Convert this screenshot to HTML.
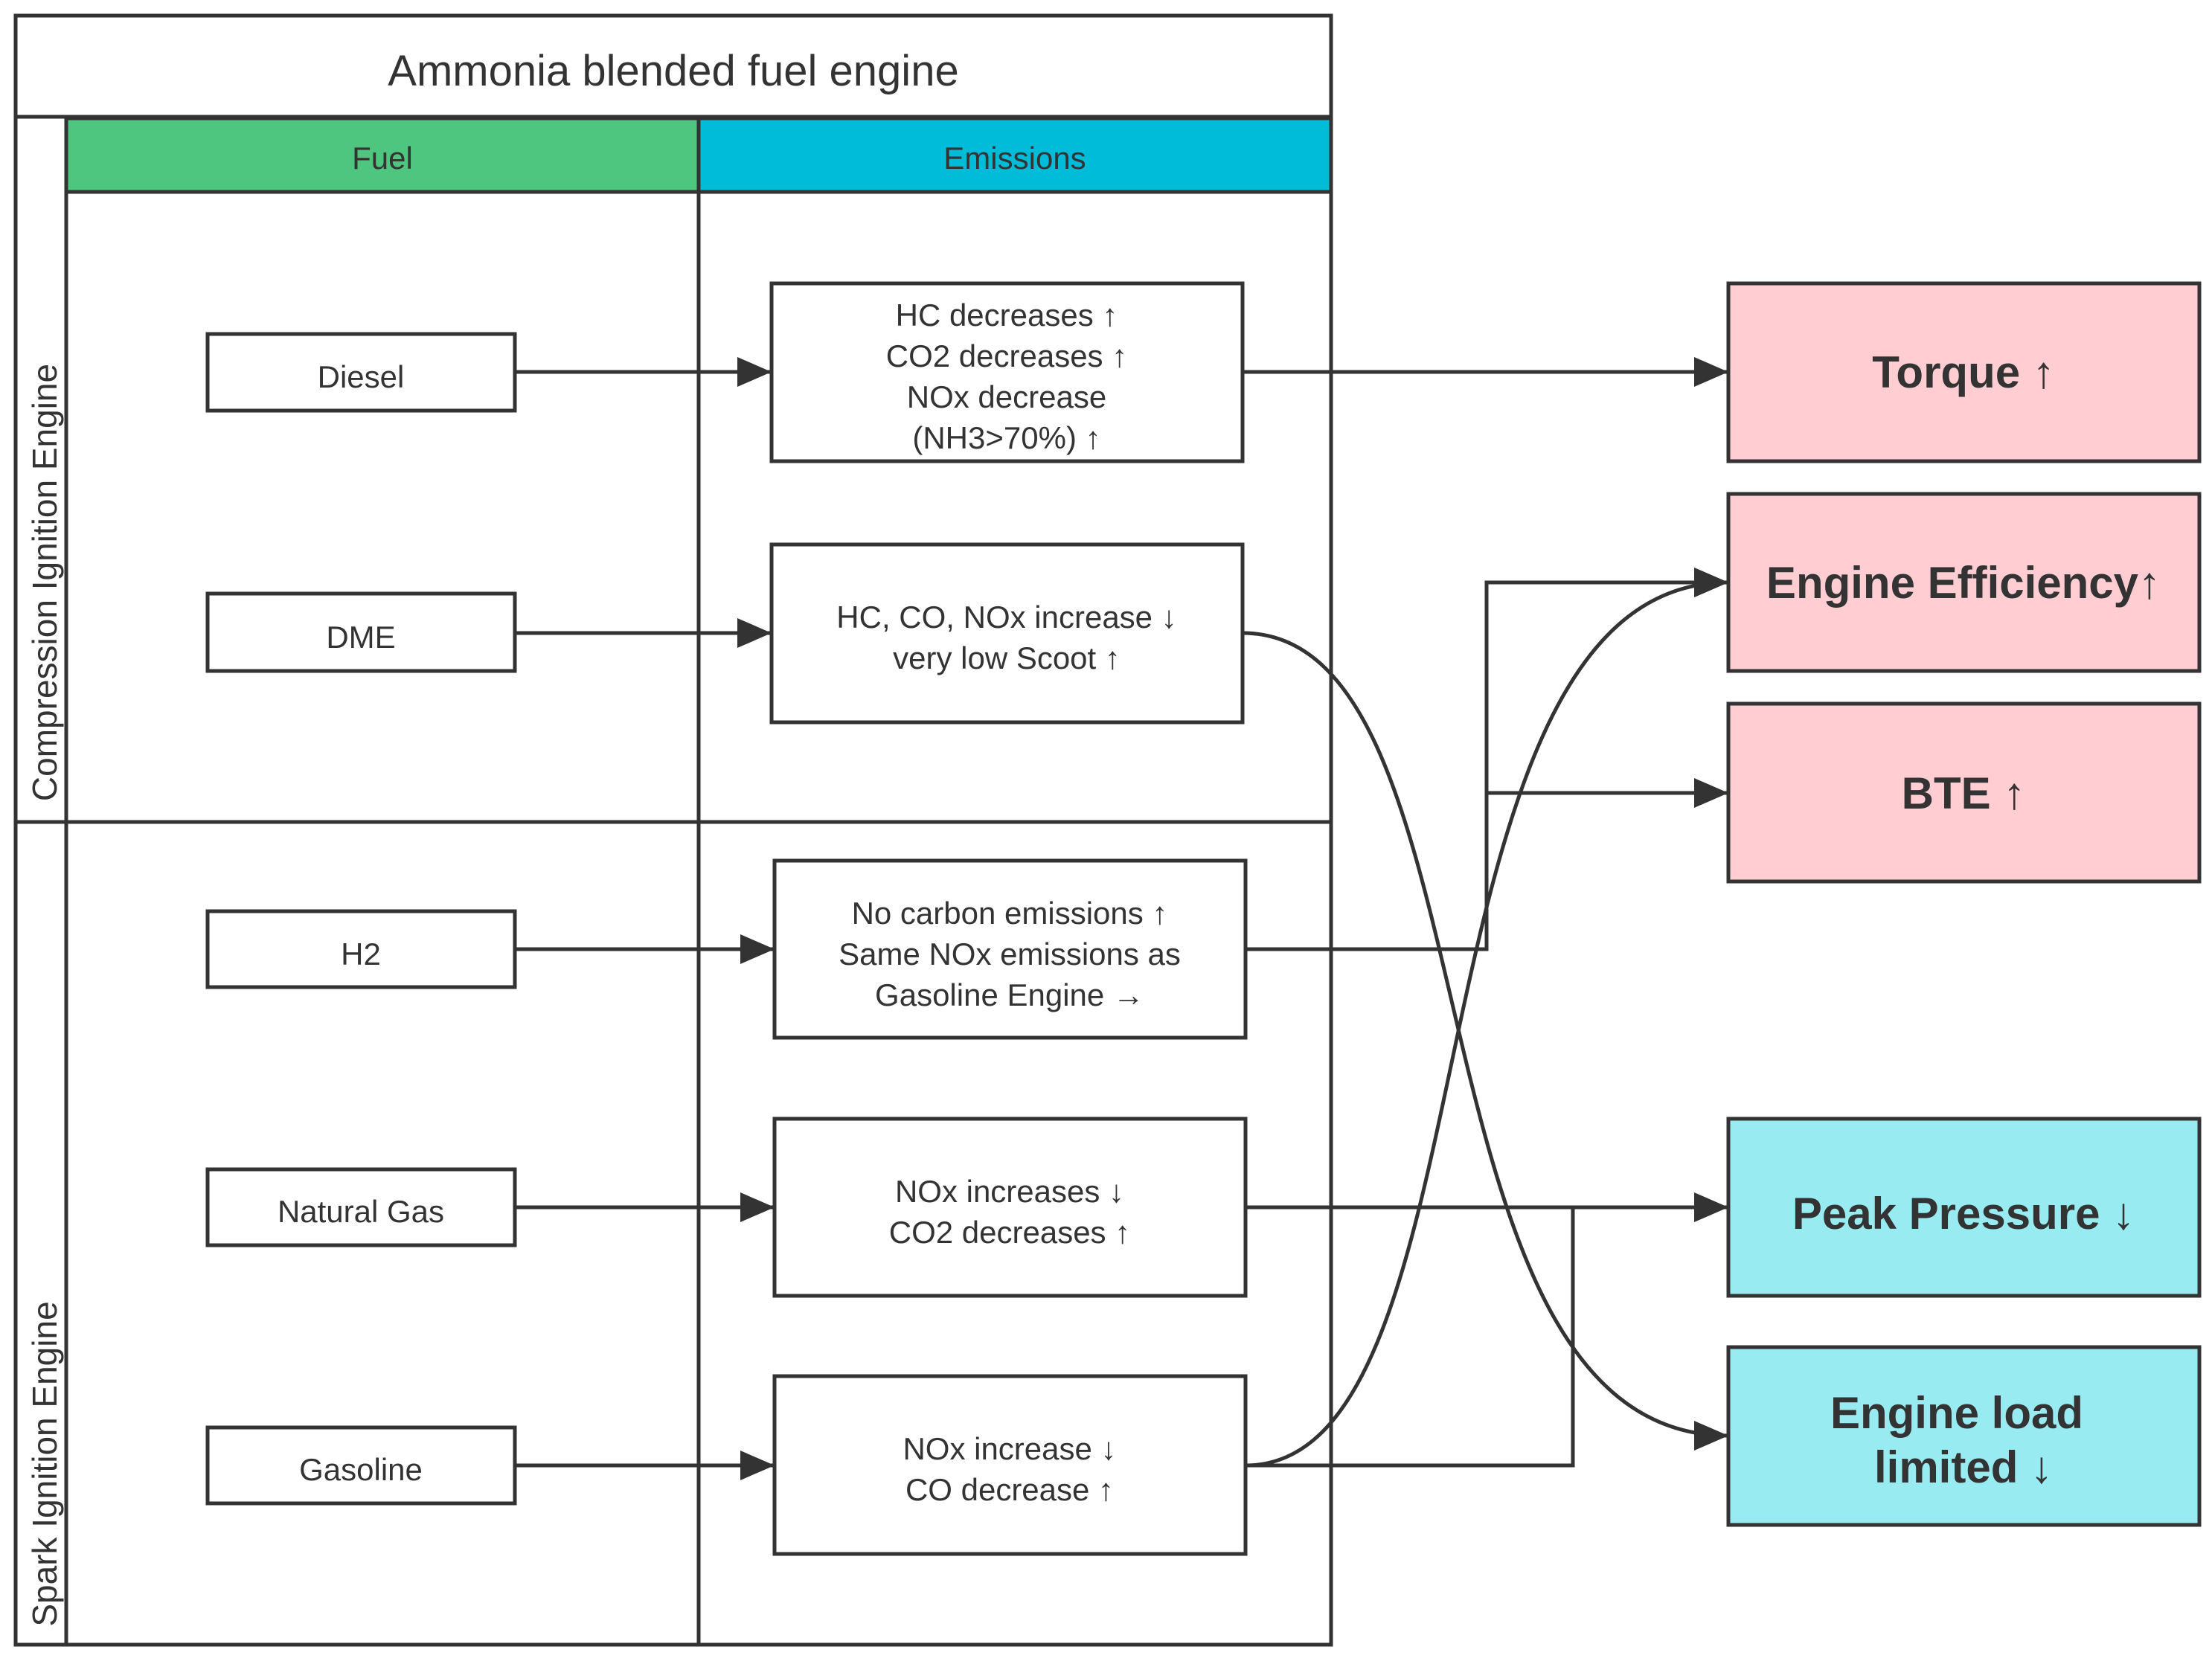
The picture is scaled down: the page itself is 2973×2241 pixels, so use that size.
<!DOCTYPE html>
<html><head><meta charset="utf-8"><style>
body{margin:0;background:#fff}
svg text{font-family:"Liberation Sans","DejaVu Sans",sans-serif;fill:#333}
</style></head><body>
<svg width="2973" height="2236" viewBox="0 0 2973 2236" xmlns="http://www.w3.org/2000/svg">
<defs>
<marker id="b" viewBox="0 0 10 10" refX="10" refY="5" markerWidth="46" markerHeight="40" orient="auto" markerUnits="userSpaceOnUse" preserveAspectRatio="none"><path d="M0,0 L10,5 L0,10z" fill="#333"/></marker></defs>
<g stroke="#333" stroke-width="5" fill="none">
<rect x="21" y="21" width="1768" height="2190" fill="#fff"/>
<line x1="21" y1="157" x2="1789" y2="157"/>
<rect x="89" y="159" width="850" height="99" fill="#4fc67f"/>
<rect x="939" y="159" width="850" height="99" fill="#00bcd8"/>
<line x1="89" y1="157" x2="89" y2="2211"/>
<line x1="939" y1="258" x2="939" y2="2211"/>
<line x1="21" y1="1105" x2="1789" y2="1105"/>
<rect x="279" y="449" width="413" height="103" fill="#fff"/>
<rect x="279" y="798" width="413" height="104" fill="#fff"/>
<rect x="279" y="1225" width="413" height="102" fill="#fff"/>
<rect x="279" y="1572" width="413" height="102" fill="#fff"/>
<rect x="279" y="1919" width="413" height="102" fill="#fff"/>
<rect x="1037" y="381" width="633" height="239" fill="#fff"/>
<rect x="1037" y="732" width="633" height="239" fill="#fff"/>
<rect x="1041" y="1157" width="633" height="238" fill="#fff"/>
<rect x="1041" y="1504" width="633" height="238" fill="#fff"/>
<rect x="1041" y="1850" width="633" height="239" fill="#fff"/>
<rect x="2323" y="381" width="633" height="239" fill="#ffcdd2"/>
<rect x="2323" y="664" width="633" height="238" fill="#ffcdd2"/>
<rect x="2323" y="946" width="633" height="239" fill="#ffcdd2"/>
<rect x="2323" y="1504" width="633" height="238" fill="#98ebf1"/>
<rect x="2323" y="1811" width="633" height="239" fill="#98ebf1"/>
<g marker-end="url(#b)">
<line x1="692" y1="500" x2="1037" y2="500"/>
<line x1="692" y1="851" x2="1037" y2="851"/>
<line x1="692" y1="1276" x2="1041" y2="1276"/>
<line x1="692" y1="1623" x2="1041" y2="1623"/>
<line x1="692" y1="1970" x2="1041" y2="1970"/>
<line x1="1670" y1="500" x2="2323" y2="500"/>
<line x1="1674" y1="1623" x2="2323" y2="1623"/>
<polyline points="1674,1276 1998,1276 1998,783 2323,783"/>
<polyline points="1998,1066 2323,1066"/>
<path d="M1670,851 C2020,851 1880,1930 2323,1930"/>
<path d="M1674,1970 C2020,1970 1880,783 2323,783"/>
</g>
<polyline points="1674,1970 2114,1970 2114,1623"/>
</g>
<g font-size="58" text-anchor="middle"><text x="905" y="115">Ammonia blended fuel engine</text></g>
<g font-size="42" text-anchor="middle">
<text x="514" y="227">Fuel</text><text x="1364" y="227">Emissions</text>
<text x="485" y="521">Diesel</text><text x="485" y="871">DME</text><text x="485" y="1297">H2</text>
<text x="485" y="1643">Natural Gas</text><text x="485" y="1990">Gasoline</text>
<text x="1353" y="438">HC decreases ↑</text><text x="1353" y="493">CO2 decreases ↑</text>
<text x="1353" y="548">NOx decrease</text><text x="1353" y="603">(NH3&gt;70%) ↑</text>
<text x="1353" y="844">HC, CO, NOx increase ↓</text><text x="1353" y="899">very low Scoot ↑</text>
<text x="1357" y="1242">No carbon emissions ↑</text><text x="1357" y="1297">Same NOx emissions as</text><text x="1357" y="1352">Gasoline Engine →</text>
<text x="1357" y="1616">NOx increases ↓</text><text x="1357" y="1671">CO2 decreases ↑</text>
<text x="1357" y="1962">NOx increase ↓</text><text x="1357" y="2017">CO decrease ↑</text>
</g>
<g font-size="46" text-anchor="middle">
<text transform="translate(76,783) rotate(-90)">Compression Ignition Engine</text>
<text transform="translate(76,1968) rotate(-90)">Spark Ignition Engine</text>
</g>
<g font-size="60" font-weight="bold" text-anchor="middle">
<text x="2639" y="521">Torque ↑</text>
<text x="2639" y="804">Engine Efficiency↑</text>
<text x="2639" y="1087">BTE ↑</text>
<text x="2639" y="1652">Peak Pressure ↓</text>
<text x="2630" y="1920">Engine load</text>
<text x="2639" y="1993">limited ↓</text>
</g>
</svg>
</body></html>
